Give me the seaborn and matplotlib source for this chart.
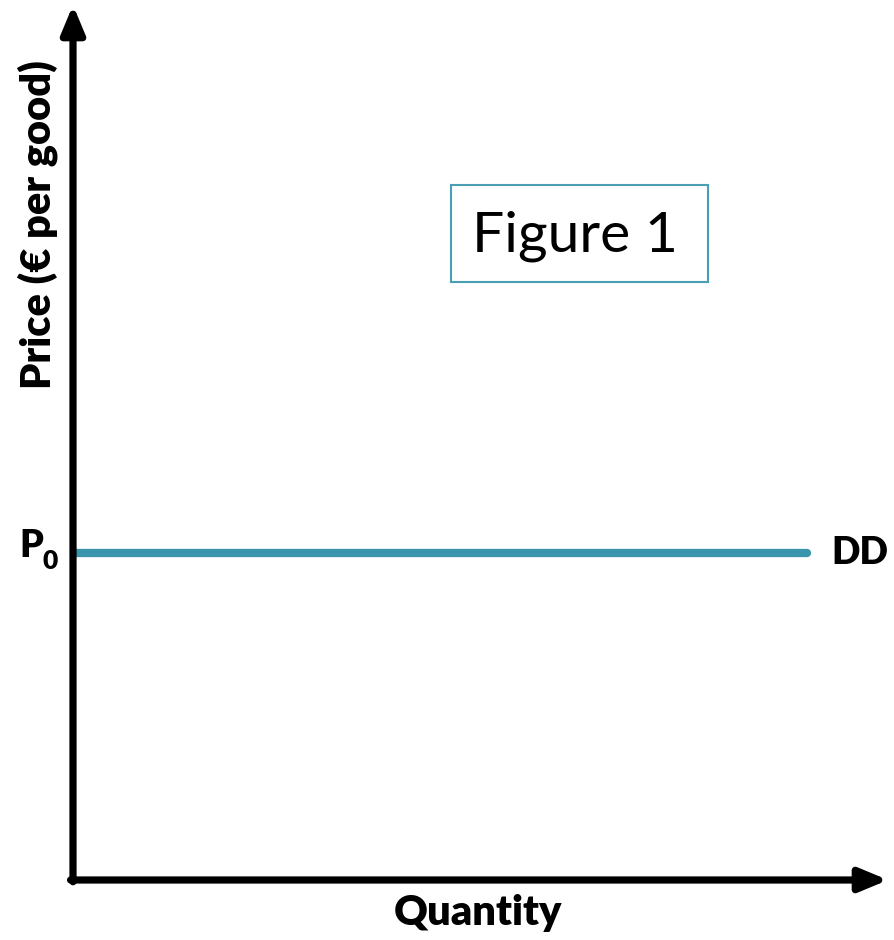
import matplotlib
matplotlib.use('Agg')
import matplotlib.pyplot as plt
import seaborn as sns
import pandas as pd
from matplotlib.patches import Rectangle

# demand curve DD: flat at P0
quantity = [0, 9]
price = [3.74, 3.74]
line_label = 'DD'
price_label = 'P'
price_sub = '0'

sns.set_style('white')
plt.rcParams['font.family'] = ['Lato', 'DejaVu Sans']

fig = plt.figure(figsize=(8.94, 9.40), dpi=100)
ax = fig.add_axes([73 / 894, 60 / 940, 815 / 894, 875 / 940])
ax.set_xlim(0, 10)
ax.set_ylim(0, 10)

df = pd.DataFrame({'Quantity': quantity, 'Price': price})
sns.lineplot(data=df, x='Quantity', y='Price', ax=ax, color='#3A96AD',
             linewidth=6, solid_capstyle='round')

for s in ax.spines.values():
    s.set_visible(False)
ax.set_xticks([])
ax.set_yticks([])
ax.set_xlabel('')
ax.set_ylabel('')

# axes with arrows
arrow = dict(arrowstyle='-|>,head_length=1.2,head_width=0.5', lw=5.2, color='black',
             shrinkA=0, shrinkB=0, mutation_scale=14)
ax.annotate('', xy=(0, 10), xytext=(0, -0.02), arrowprops=arrow, annotation_clip=False)
ax.annotate('', xy=(10, 0), xytext=(-0.03, 0), arrowprops=arrow, annotation_clip=False)

# labels
fig.text(38 / 894, 1 - 225 / 940, 'Price (€ per good)', rotation=90, fontsize=30,
         fontweight='heavy', ha='center', va='center', color='black')
fig.text(478 / 894, 1 - 913 / 940, 'Quantity', fontsize=30, fontweight='heavy',
         ha='center', va='center', color='black')
ax.text(-0.37, price[0] + 0.08, price_label, fontsize=27, fontweight='heavy',
        ha='right', va='center', clip_on=False, color='black')
ax.text(-0.37, price[0] - 0.09, price_sub, fontsize=19, fontweight='heavy',
        ha='left', va='center', clip_on=False, color='black')
ax.text(quantity[1] + 0.3, price[0], line_label, fontsize=27, fontweight='heavy',
        ha='left', va='center', clip_on=False, color='black')

# "Figure 1" box
fig.patches.append(Rectangle((451 / 894, 1 - 282 / 940), 257 / 894, 97 / 940,
                             transform=fig.transFigure, fill=False,
                             edgecolor='#4A9FB5', linewidth=1.5))
fig.text(575 / 894, 1 - 236 / 940, 'Figure 1', fontsize=41, ha='center', va='center',
         color='black')

fig.savefig('out.png', dpi=100)
